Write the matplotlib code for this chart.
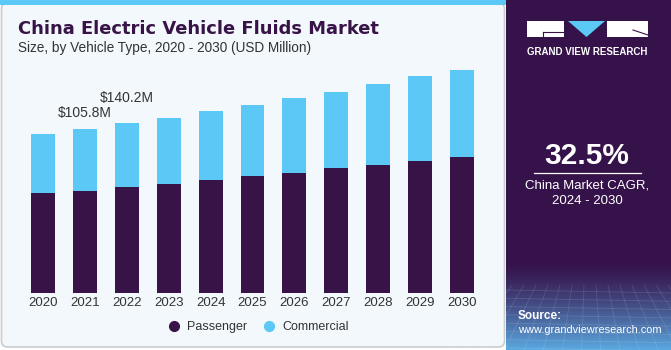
import numpy as np
import matplotlib.pyplot as plt
from matplotlib.patches import Rectangle, FancyBboxPatch, Polygon
from matplotlib.lines import Line2D

# data (USD Million)
years = ['2020', '2021', '2022', '2023', '2024', '2025', '2026', '2027', '2028', '2029', '2030']
passenger = [64.5, 66.0, 68.6, 70.5, 73.1, 75.7, 77.8, 80.6, 83.0, 85.5, 87.9]
commercial = [38.1, 39.8, 41.5, 42.8, 44.3, 46.0, 48.0, 49.5, 52.2, 54.7, 56.3]
label_idx = [1, 2]
label_text = ['$105.8M', '$140.2M']
label_off = [7, 13]

PURPLE = '#371347'
BLUE = '#5BC8F5'
BG = '#F3F8FC'
PANEL = '#36124A'
TXT = '#333333'

plt.rcParams['font.family'] = ['Liberation Sans', 'DejaVu Sans']

fig = plt.figure(figsize=(6.71, 3.5), dpi=100)
fig.patch.set_facecolor('white')

# background layer in pixel coordinates
bg = fig.add_axes([0, 0, 1, 1])
bg.set_xlim(0, 671)
bg.set_ylim(350, 0)
bg.axis('off')
bg.add_patch(FancyBboxPatch((1.5, 3), 503, 344, boxstyle='round,pad=0,rounding_size=6',
                            fc=BG, ec='#CCCCCC', lw=1.2))
bg.add_patch(Rectangle((0, 0), 506, 5, fc=BLUE, ec='none'))
bg.add_patch(Rectangle((506, 0), 165, 350, fc=PANEL, ec='none'))
# gradient at bottom of side panel
grad = np.linspace(0, 1, 100).reshape(-1, 1)
c0 = np.array([0x36, 0x12, 0x4A]) / 255
c1 = np.array([0x5A, 0xA8, 0xE0]) / 255
img = np.zeros((100, 1, 4))
img[..., :3] = c0 + (c1 - c0) * grad[..., None] ** 1.3
img[..., 3] = 1
bg.imshow(img, extent=(506, 671, 350, 262), aspect='auto', zorder=1)
for yy in np.linspace(290, 348, 8):
    bg.plot([506, 671], [yy, yy + 3], color='white', alpha=0.12, lw=0.6, zorder=2)
for xx in np.linspace(500, 680, 16):
    bg.plot([xx, 588 + (xx - 588) * 1.6], [285, 350], color='white', alpha=0.12, lw=0.6, zorder=2)

# logo
bg.add_patch(Rectangle((527, 21), 37, 16, fc='white', ec='none', zorder=3))
bg.plot([543, 564], [32, 32], color=PANEL, lw=0.8, zorder=4)
bg.plot([543, 543], [32, 37], color=PANEL, lw=0.8, zorder=4)
bg.add_patch(Polygon([(568, 21), (605, 21), (586.5, 37)], fc=BLUE, ec='none', zorder=3))
bg.add_patch(Rectangle((607, 21), 41, 16, fc='white', ec='none', zorder=3))
bg.plot([633, 648], [30, 35], color=PANEL, lw=0.8, zorder=4)
bg.text(587.5, 52, 'GRAND VIEW RESEARCH', color='white', fontsize=7, fontweight='bold',
        ha='center', va='center', zorder=4)

bg.text(587, 156, '32.5%', color='white', fontsize=21.5, fontweight='bold', ha='center', va='center')
bg.plot([534, 641], [173, 173], color='white', lw=0.9)
bg.text(587, 186, 'China Market CAGR,', color='white', fontsize=9.5, ha='center', va='center')
bg.text(587, 201, '2024 - 2030', color='white', fontsize=9.5, ha='center', va='center')
bg.text(518, 316, 'Source:', color='white', fontsize=8.5, fontweight='bold', ha='left', va='center', zorder=4)
bg.text(518, 330, 'www.grandviewresearch.com', color='white', fontsize=7.9, ha='left', va='center', zorder=4)

# titles
bg.text(18, 29, 'China Electric Vehicle Fluids Market', color=PURPLE, fontsize=12.9,
        fontweight='bold', ha='left', va='center', family='DejaVu Sans')
bg.text(18, 48, 'Size, by Vehicle Type, 2020 - 2030 (USD Million)', color=TXT, fontsize=9.8,
        ha='left', va='center')

# main chart
ax = fig.add_axes([22 / 671, 56.7 / 350, 461 / 671, 233.3 / 350])
ax.patch.set_alpha(0)
x = np.arange(len(years))
ax.bar(x, passenger, width=0.57, color=PURPLE, label='Passenger')
ax.bar(x, commercial, width=0.57, bottom=passenger, color=BLUE, label='Commercial')
totals = np.array(passenger) + np.array(commercial)
for i, t, off in zip(label_idx, label_text, label_off):
    ax.annotate(t, xy=(i, totals[i]), xytext=(0, off), textcoords='offset points',
                ha='center', va='bottom', fontsize=10, color=TXT)
ax.set_xlim(-0.5, len(years) - 0.5)
ax.set_ylim(0, 150.5)
ax.set_xticks(x)
ax.set_xticklabels(years, fontsize=9.5, color=TXT)
ax.tick_params(axis='x', length=0, pad=3)
ax.set_yticks([])
for s in ax.spines.values():
    s.set_visible(False)

handles = [Line2D([], [], marker='o', ls='none', color=PURPLE, markersize=7),
           Line2D([], [], marker='o', ls='none', color=BLUE, markersize=7)]
fig.legend(handles, ['Passenger', 'Commercial'], loc='center', bbox_to_anchor=(255 / 671, 1 - 327 / 350),
           ncol=2, frameon=False, fontsize=9, handletextpad=0.1, columnspacing=0.7,
           labelcolor=TXT)

fig.savefig('out.png', dpi=100, facecolor=fig.get_facecolor())
